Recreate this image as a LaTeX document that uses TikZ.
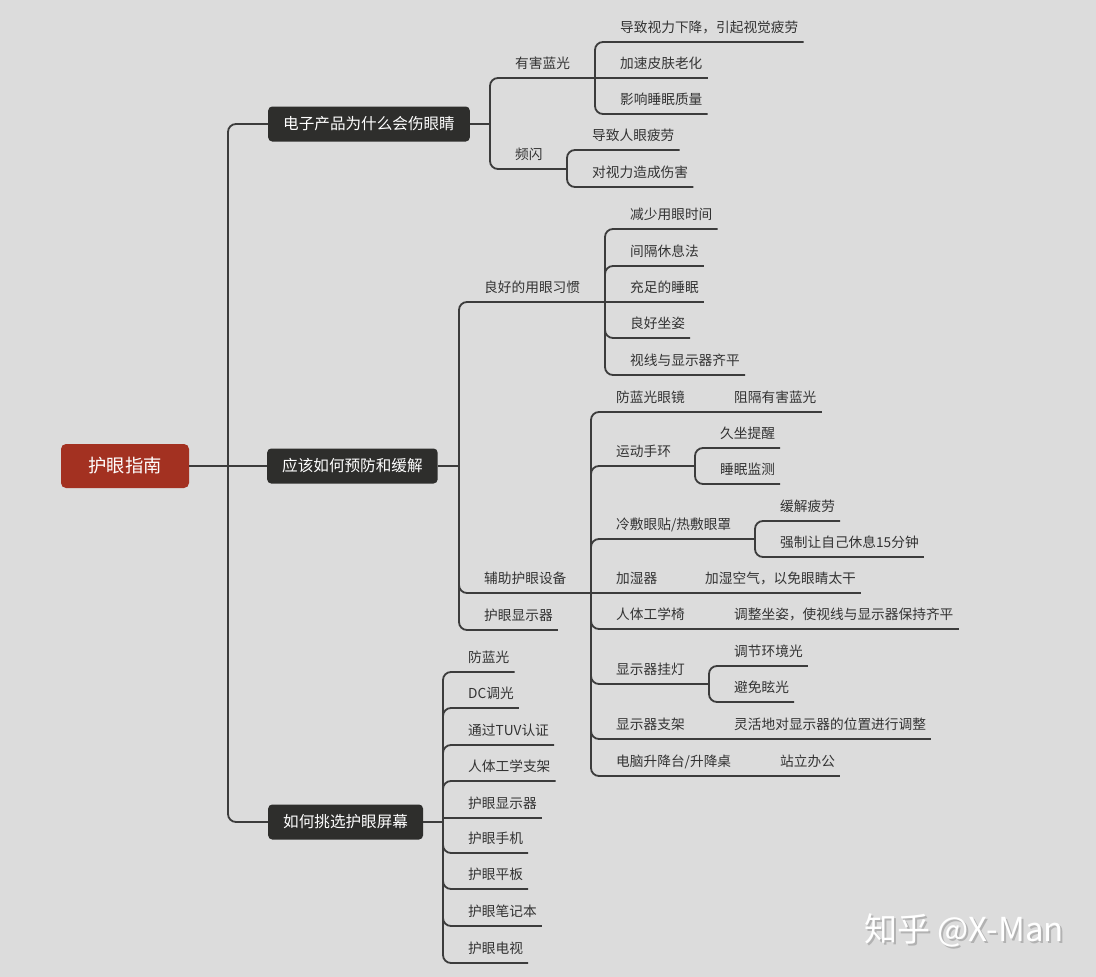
\documentclass[tikz,border=0pt]{standalone}
\usepackage{fontspec}
\setmainfont{Noto Sans CJK SC}
\usepackage{xcolor}
\definecolor{PaperGray}{HTML}{DCDCDC}
\definecolor{LineGray}{HTML}{3C3C3C}
\definecolor{TextGray}{HTML}{333333}
\definecolor{BoxDark}{HTML}{2E2E2C}
\definecolor{RootRed}{HTML}{A33121}
\usepackage{tikz}
\usetikzlibrary{calc, positioning}

\begin{document}
\begin{tikzpicture}[x=1pt, y=-1pt,
  link/.style={draw=LineGray, line width=1.8pt, rounded corners=8pt},
  topic/.style={anchor=south west, inner xsep=5pt, inner ysep=0pt, text height=11pt, text depth=9.5pt, text=TextGray, font=\fontsize{13.7pt}{16pt}\selectfont},
  branch/.style={anchor=west, fill=BoxDark, text=white, rounded corners=4pt, minimum height=35pt, inner xsep=15pt, inner ysep=0pt, font=\fontsize{15.6pt}{18pt}\selectfont},
  rootbox/.style={fill=RootRed, text=white, rounded corners=5pt, minimum width=128pt, minimum height=44pt, font=\fontsize{18.3pt}{22pt}\selectfont}]
  \useasboundingbox[fill=PaperGray] (0,0) rectangle (1096,977);

  % root and main branches
  \node[rootbox] (root) at (125,466) {护眼指南};
  \coordinate (trunk) at (228,466);
  \node[branch] (why) at (268,124) {电子产品为什么会伤眼睛};
  \node[branch] (how) at (267,466) {应该如何预防和缓解};
  \node[branch] (pick) at (268,822) {如何挑选护眼屏幕};
  \draw[link] (root.east) -- (trunk) -- (how.west);
  \draw[link] (trunk) |- (why.west);
  \draw[link] (trunk) |- (pick.west);

  % why
  \coordinate (why-bar) at (490,124);
  \draw[link] (why.east) -- (why-bar);
  \node[topic] (blue) at (510,78) {有害蓝光};
  \node[topic] (flash) at (510,169) {频闪};
  \coordinate (blue-bar) at (595,78);
  \coordinate (flash-bar) at (567,169);
  \draw[link] (why-bar) |- (blue-bar);
  \draw[link] (why-bar) |- (flash-bar);
  \node[topic] (blue1) at (615,42) {导致视力下降，引起视觉疲劳};
  \node[topic] (blue2) at (615,78) {加速皮肤老化};
  \node[topic] (blue3) at (615,114) {影响睡眠质量};
  \draw[link] (blue-bar) |- (blue1.south east);
  \draw[link] (blue-bar) -- (blue2.south east);
  \draw[link] (blue-bar) |- (blue3.south east);
  \node[topic] (flash1) at (587,150) {导致人眼疲劳};
  \node[topic] (flash2) at (587,187) {对视力造成伤害};
  \draw[link] (flash-bar) |- (flash1.south east);
  \draw[link] (flash-bar) |- (flash2.south east);

  % how
  \coordinate (how-bar) at (459,466);
  \draw[link] (how.east) -- (how-bar);
  \node[topic] (habit) at (479,302) {良好的用眼习惯};
  \node[topic] (aid) at (479,593) {辅助护眼设备};
  \node[topic] (screen) at (479,630) {护眼显示器};
  \coordinate (habit-bar) at (605,302);
  \coordinate (aid-bar) at (591,593);
  \draw[link] (how-bar) |- (habit-bar);
  \draw[link] (how-bar) |- (aid-bar);
  \draw[link] (how-bar) |- (screen.south east);

  \node[topic] (habit1) at (625,229) {减少用眼时间};
  \node[topic] (habit2) at (625,266) {间隔休息法};
  \node[topic] (habit3) at (625,302) {充足的睡眠};
  \node[topic] (habit4) at (625,338) {良好坐姿};
  \node[topic] (habit5) at (625,375) {视线与显示器齐平};
  \draw[link] (habit-bar) |- (habit1.south east);
  \draw[link] (habit-bar) |- (habit2.south east);
  \draw[link] (habit-bar) -- (habit3.south east);
  \draw[link] (habit-bar) |- (habit4.south east);
  \draw[link] (habit-bar) |- (habit5.south east);

  \node[topic] (glasses) at (611,412) {防蓝光眼镜};
  \node[topic] (band) at (611,466) {运动手环};
  \node[topic] (compress) at (611,539) {冷敷眼贴/热敷眼罩};
  \node[topic] (humid) at (611,593) {加湿器};
  \node[topic] (chair) at (611,629) {人体工学椅};
  \node[topic] (lamp) at (611,684) {显示器挂灯};
  \node[topic] (stand) at (611,739) {显示器支架};
  \node[topic] (desk) at (611,776) {电脑升降台/升降桌};
  \coordinate (glasses-bar) at (709,412);
  \coordinate (band-bar) at (695,466);
  \coordinate (compress-bar) at (755,539);
  \coordinate (humid-bar) at (680,593);
  \coordinate (chair-bar) at (709,629);
  \coordinate (lamp-bar) at (709,684);
  \coordinate (stand-bar) at (709,739);
  \coordinate (desk-bar) at (755,776);
  \draw[link] (aid-bar) |- (glasses-bar);
  \draw[link] (aid-bar) |- (band-bar);
  \draw[link] (aid-bar) |- (compress-bar);
  \draw[link] (aid-bar) -- (humid-bar);
  \draw[link] (aid-bar) |- (chair-bar);
  \draw[link] (aid-bar) |- (lamp-bar);
  \draw[link] (aid-bar) |- (stand-bar);
  \draw[link] (aid-bar) |- (desk-bar);

  \node[topic] (glasses1) at (729,412) {阻隔有害蓝光};
  \draw[link] (glasses-bar) -- (glasses1.south east);
  \node[topic] (band1) at (715,448) {久坐提醒};
  \node[topic] (band2) at (715,484) {睡眠监测};
  \draw[link] (band-bar) |- (band1.south east);
  \draw[link] (band-bar) |- (band2.south east);
  \node[topic] (compress1) at (775,521) {缓解疲劳};
  \node[topic] (compress2) at (775,557) {强制让自己休息15分钟};
  \draw[link] (compress-bar) |- (compress1.south east);
  \draw[link] (compress-bar) |- (compress2.south east);
  \node[topic] (humid1) at (700,593) {加湿空气，以免眼睛太干};
  \draw[link] (humid-bar) -- (humid1.south east);
  \node[topic] (chair1) at (729,629) {调整坐姿，使视线与显示器保持齐平};
  \draw[link] (chair-bar) -- (chair1.south east);
  \node[topic] (lamp1) at (729,666) {调节环境光};
  \node[topic] (lamp2) at (729,702) {避免眩光};
  \draw[link] (lamp-bar) |- (lamp1.south east);
  \draw[link] (lamp-bar) |- (lamp2.south east);
  \node[topic] (stand1) at (729,739) {灵活地对显示器的位置进行调整};
  \draw[link] (stand-bar) -- (stand1.south east);
  \node[topic] (desk1) at (775,776) {站立办公};
  \draw[link] (desk-bar) -- (desk1.south east);

  % pick
  \coordinate (pick-bar) at (443,822);
  \draw[link] (pick.east) -- (pick-bar);
  \node[topic] (pick1) at (463,672) {防蓝光};
  \node[topic] (pick2) at (463,708) {DC调光};
  \node[topic] (pick3) at (463,745) {通过TUV认证};
  \node[topic] (pick4) at (463,781) {人体工学支架};
  \node[topic] (pick5) at (463,818) {护眼显示器};
  \node[topic] (pick6) at (463,853) {护眼手机};
  \node[topic] (pick7) at (463,889) {护眼平板};
  \node[topic] (pick8) at (463,926) {护眼笔记本};
  \node[topic] (pick9) at (463,963) {护眼电视};
  \draw[link] (pick-bar) |- (pick1.south east);
  \draw[link] (pick-bar) |- (pick2.south east);
  \draw[link] (pick-bar) |- (pick3.south east);
  \draw[link] (pick-bar) |- (pick4.south east);
  \draw[link, sharp corners] (pick-bar) |- (pick5.south east);
  \draw[link] (pick-bar) |- (pick6.south east);
  \draw[link] (pick-bar) |- (pick7.south east);
  \draw[link] (pick-bar) |- (pick8.south east);
  \draw[link] (pick-bar) |- (pick9.south east);

  % watermark
  \node[font=\fontsize{33pt}{40pt}\selectfont, text=black!30] (markshade) at (966,932) {知乎 @X-Man};
  \node[font=\fontsize{33pt}{40pt}\selectfont, text=white] (mark) at (964,930) {知乎 @X-Man};
\end{tikzpicture}
\end{document}
